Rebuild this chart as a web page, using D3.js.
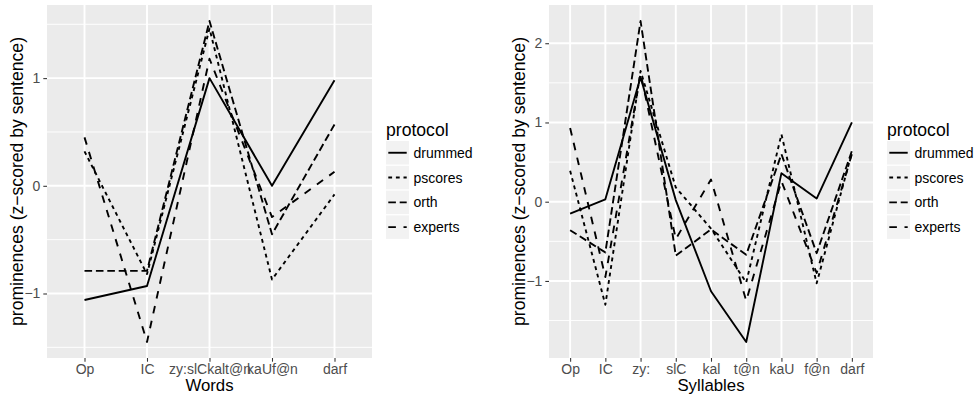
<!DOCTYPE html>
<html>
<head>
<meta charset="utf-8">
<script src="https://cdn.jsdelivr.net/npm/d3@7"></script>
<style>
  html, body { margin: 0; padding: 0; background: #ffffff; }
  svg { display: block; font-family: "Liberation Sans", Arial, Helvetica, sans-serif; }
</style>
</head>
<body>
<svg id="chart" width="977" height="394"></svg>
<script>
// Protocols and their line types (ggplot's default linetype palette)
const protocols = ["drummed", "pscores", "orth", "experts"];
const dashes = { drummed: null, pscores: "3.8,3.8", orth: "7.6,3.8", experts: "7.6,7.6" };

// Word-level prominences
const words = ["Op", "IC", "zy:slCkalt@n", "kaUf@n", "darf"];
const wordDrummed = [-1.06, -0.93, 1.0, 0.0, 0.98];
const wordPscores = [0.32, -0.82, 1.46, -0.87, -0.08];
const wordOrth    = [-0.79, -0.79, 1.53, -0.45, 0.57];
const wordExperts = [0.45, -1.45, 1.18, -0.29, 0.13];

// Syllable-level prominences
const syllables = ["Op", "IC", "zy:", "slC", "kal", "t@n", "kaU", "f@n", "darf"];
const syllDrummed = [-0.15, 0.03, 1.57, 0.02, -1.13, -1.77, 0.36, 0.04, 1.0];
const syllPscores = [0.39, -1.3, 1.65, 0.18, -0.34, -1.02, 0.85, -1.03, 0.62];
const syllOrth    = [-0.36, -0.64, 2.28, -0.68, -0.35, -0.67, 0.6, -0.65, 0.64];
const syllExperts = [0.93, -0.95, 1.62, -0.47, 0.28, -1.25, 0.26, -0.9, 0.6];

const svg = d3.select("#chart");
const GREY = "#EBEBEB";
const TICK_FONT = "14px";
const XTITLE_FONT = "16.8px";
const TITLE_FONT = "17.6px";

function drawPlot(opts) {
  const { ox, cats, series, xTitle, panel } = opts;
  const g = svg.append("g").attr("transform", `translate(${ox},0)`);

  const x = d3.scalePoint().domain(cats).range([panel.left, panel.right]).padding(0.6);
  const all = protocols.flatMap(p => series[p]);
  const [lo, hi] = d3.extent(all);
  const pad = (hi - lo) * 0.05;
  const y = d3.scaleLinear().domain([lo - pad, hi + pad]).range([panel.bottom, panel.top]);

  // panel background
  g.append("rect")
    .attr("x", panel.left).attr("y", panel.top)
    .attr("width", panel.right - panel.left).attr("height", panel.bottom - panel.top)
    .attr("fill", GREY);

  // grid
  const major = y.ticks(4);
  const step = major[1] - major[0];
  const minor = d3.range(major[0] - step / 2, major[major.length - 1] + step, step)
    .filter(v => v >= y.domain()[0] && v <= y.domain()[1]);
  g.selectAll(".minor").data(minor).join("line")
    .attr("x1", panel.left).attr("x2", panel.right)
    .attr("y1", d => y(d)).attr("y2", d => y(d))
    .attr("stroke", "#ffffff").attr("stroke-width", 0.95);
  g.selectAll(".majorY").data(major).join("line")
    .attr("x1", panel.left).attr("x2", panel.right)
    .attr("y1", d => y(d)).attr("y2", d => y(d))
    .attr("stroke", "#ffffff").attr("stroke-width", 1.9);
  g.selectAll(".majorX").data(cats).join("line")
    .attr("x1", d => x(d)).attr("x2", d => x(d))
    .attr("y1", panel.top).attr("y2", panel.bottom)
    .attr("stroke", "#ffffff").attr("stroke-width", 1.9);

  // series lines
  const line = d3.line().x((d, i) => x(cats[i])).y(d => y(d));
  protocols.forEach(p => {
    g.append("path")
      .datum(series[p])
      .attr("d", line)
      .attr("fill", "none")
      .attr("stroke", "#000000")
      .attr("stroke-width", 1.9)
      .attr("stroke-linejoin", "round")
      .attr("stroke-dasharray", dashes[p]);
  });

  // axes
  const yAxis = d3.axisLeft(y).tickValues(major).tickSize(3.7).tickPadding(2.9)
    .tickFormat(d => d < 0 ? "\u2212" + Math.abs(d) : String(d));
  const ya = g.append("g").attr("transform", `translate(${panel.left},0)`).call(yAxis);
  const xAxis = d3.axisBottom(x).tickSize(3.7).tickPadding(2.0);
  const xa = g.append("g").attr("transform", `translate(0,${panel.bottom})`).call(xAxis);
  [ya, xa].forEach(a => {
    a.select(".domain").remove();
    a.selectAll(".tick line").attr("stroke", "#333333").attr("stroke-width", 1.07);
    a.selectAll(".tick text").attr("fill", "#4D4D4D").style("font-size", TICK_FONT)
      .style("font-family", "'Liberation Sans', Arial, sans-serif");
  });

  // titles
  g.append("text")
    .attr("x", (panel.left + panel.right) / 2).attr("y", 390.8)
    .attr("text-anchor", "middle").style("font-size", XTITLE_FONT).attr("fill", "#000")
    .text(xTitle);
  g.append("text")
    .attr("transform", `translate(${panel.left - 24},${(panel.top + panel.bottom) / 2}) rotate(-90)`)
    .attr("text-anchor", "middle").style("font-size", TITLE_FONT).attr("fill", "#000")
    .text("prominences (z\u2212scored by sentence)");

  // legend
  const lx = panel.right + 14;
  const lg = g.append("g");
  lg.append("text").attr("x", lx).attr("y", 136).style("font-size", TITLE_FONT).attr("fill", "#000")
    .text("protocol");
  protocols.forEach((p, i) => {
    const top = 141 + i * 24.8;
    lg.append("rect").attr("x", lx).attr("y", top).attr("width", 23).attr("height", 23.5)
      .attr("fill", "#F2F2F2");
    lg.append("line")
      .attr("x1", lx + 2.3).attr("x2", lx + 20.7)
      .attr("y1", top + 11.75).attr("y2", top + 11.75)
      .attr("stroke", "#000").attr("stroke-width", 1.9)
      .attr("stroke-dasharray", dashes[p]);
    lg.append("text").attr("x", lx + 27.5).attr("y", top + 16.8)
      .style("font-size", TICK_FONT).attr("fill", "#000").text(p);
  });
}

drawPlot({
  ox: 0,
  cats: words,
  series: { drummed: wordDrummed, pscores: wordPscores, orth: wordOrth, experts: wordExperts },
  xTitle: "Words",
  panel: { left: 47, right: 372, top: 5, bottom: 358 }
});

drawPlot({
  ox: 502,
  cats: syllables,
  series: { drummed: syllDrummed, pscores: syllPscores, orth: syllOrth, experts: syllExperts },
  xTitle: "Syllables",
  panel: { left: 47, right: 371, top: 5, bottom: 358 }
});
</script>
</body>
</html>
